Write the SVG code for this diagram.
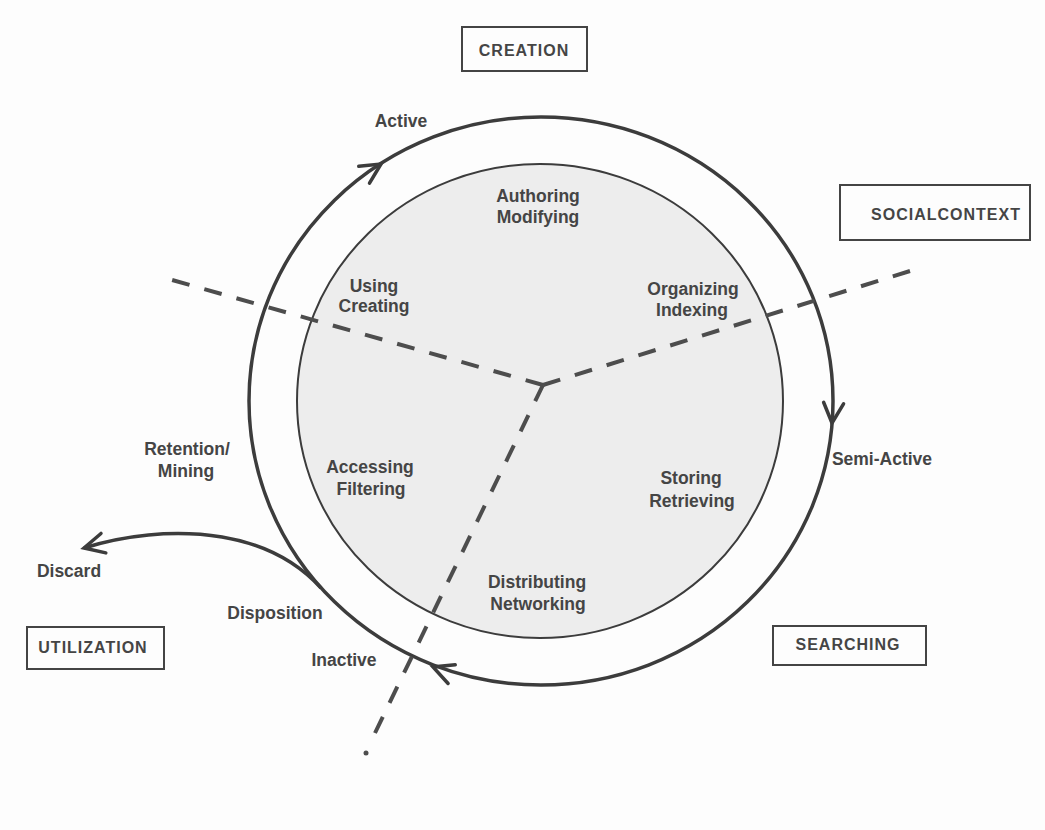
<svg xmlns="http://www.w3.org/2000/svg" xmlns:xlink="http://www.w3.org/1999/xlink" width="1045" height="830" viewBox="0 0 1045 830">
<style>
  .lbl { font-family: "Liberation Sans", Arial, sans-serif; font-weight: bold; font-size: 17.5px; fill: #454545; text-anchor: middle; }
  .box { fill: none; stroke: #444; stroke-width: 2; }
  .boxt { font-family: "Liberation Sans", Arial, sans-serif; font-weight: bold; font-size: 16px; letter-spacing: 1px; fill: #454545; text-anchor: middle; }
  .dash { stroke: #4d4d4d; stroke-width: 4; stroke-dasharray: 18 15.4; fill: none; }
  .flow { fill: none; stroke: #3c3c3c; stroke-width: 3.5; }
  .chev { fill: none; stroke: #3c3c3c; stroke-width: 3.5; stroke-linecap: round; stroke-linejoin: miter; }
</style>
<defs>
  <path id="chev" d="M-20,-10 L0,0 L-20,10"/>
</defs>
<rect width="1045" height="830" fill="#fdfdfd"/>

<g id="cycle">
  <ellipse cx="540" cy="401" rx="243" ry="237" fill="#ededed" stroke="#3c3c3c" stroke-width="2"/>
  <ellipse class="flow" cx="541" cy="401" rx="292" ry="284"/>
</g>

<g id="connectors">
  <line class="dash" x1="543" y1="385" x2="172" y2="280"/>
  <line class="dash" x1="543" y1="385" x2="910" y2="271" style="stroke-dasharray:18 15.3"/>
  <line class="dash" x1="543" y1="385" x2="375" y2="733" style="stroke-dasharray:18 15.5"/>
  <circle cx="366" cy="753" r="2.5" fill="#4d4d4d"/>
  <use href="#chev" class="chev" transform="translate(381,164) rotate(-32.5)"/>
  <use href="#chev" class="chev" transform="translate(832,423) rotate(94.5)"/>
  <use href="#chev" class="chev" transform="translate(433,667) rotate(201)"/>
  <path class="flow" d="M321,588 C300,565 270,545 222,537 C172,529 122,536 84,548"/>
  <use href="#chev" class="chev" transform="translate(84,548) rotate(166)"/>
</g>

<g id="creation"><rect class="box" x="462" y="27" width="125" height="44"/><text class="boxt" x="524" y="56">CREATION</text></g>
<g id="socialcontext"><rect class="box" x="840" y="185" width="190" height="55"/><text class="boxt" x="946" y="220">SOCIALCONTEXT</text></g>
<g id="searching"><rect class="box" x="773" y="626" width="153" height="39"/><text class="boxt" x="848" y="650">SEARCHING</text></g>
<g id="utilization"><rect class="box" x="27" y="627" width="137" height="42"/><text class="boxt" x="93" y="653">UTILIZATION</text></g>

<g id="authoring"><text class="lbl" x="538" y="202">Authoring</text><text class="lbl" x="538" y="223">Modifying</text></g>
<g id="organizing"><text class="lbl" x="693" y="295">Organizing</text><text class="lbl" x="692" y="316">Indexing</text></g>
<g id="storing"><text class="lbl" x="691" y="484">Storing</text><text class="lbl" x="692" y="507">Retrieving</text></g>
<g id="distributing"><text class="lbl" x="537" y="588">Distributing</text><text class="lbl" x="538" y="610">Networking</text></g>
<g id="accessing"><text class="lbl" x="370" y="473">Accessing</text><text class="lbl" x="371" y="495">Filtering</text></g>
<g id="using"><text class="lbl" x="374" y="292">Using</text><text class="lbl" x="374" y="312">Creating</text></g>

<g id="active"><text class="lbl" x="401" y="127">Active</text></g>
<g id="semiactive"><text class="lbl" x="882" y="465">Semi-Active</text></g>
<g id="inactive"><text class="lbl" x="344" y="666">Inactive</text></g>
<g id="disposition"><text class="lbl" x="275" y="619">Disposition</text></g>
<g id="discard"><text class="lbl" x="69" y="577">Discard</text></g>
<g id="retention"><text class="lbl" x="187" y="455">Retention/</text><text class="lbl" x="186" y="477">Mining</text></g>
</svg>
